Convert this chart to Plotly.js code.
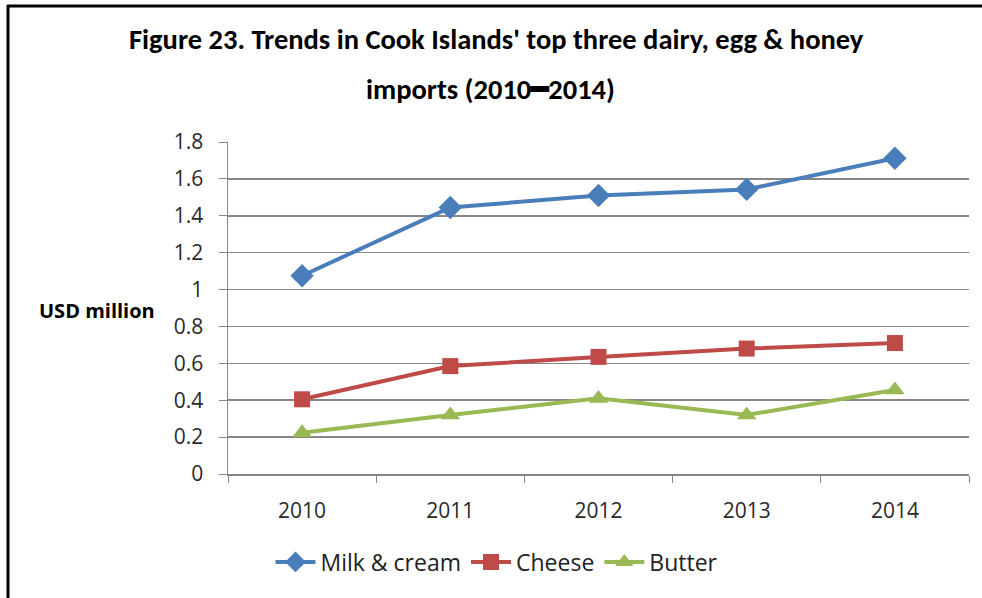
<!DOCTYPE html>
<html>
<head>
<meta charset="utf-8">
<script src="https://cdn.plot.ly/plotly-3.0.1.min.js"></script>
<style>html,body{margin:0;padding:0;background:#fff;}#chart{width:982px;height:598px;}</style>
</head>
<body>
<div id="chart"></div>
<script>
const years = ['2010', '2011', '2012', '2013', '2014'];
const milkCream = [1.075, 1.445, 1.51, 1.543, 1.712];
const cheese = [0.405, 0.585, 0.635, 0.68, 0.71];
const butter = [0.224, 0.32, 0.41, 0.32, 0.455];
const yTicks = [0, 0.2, 0.4, 0.6, 0.8, 1, 1.2, 1.4, 1.6, 1.8];
const yTickText = ['0', '0.2', '0.4', '0.6', '0.8', '1', '1.2', '1.4', '1.6', '1.8'];
const seriesNames = ['Milk & cream', 'Cheese', 'Butter'];
const titleLine1 = "Figure 23. Trends in Cook Islands' top three dairy, egg & honey";
const titleLine2 = "imports (2010\u25012014)";
const yLabel = 'USD million';

const W = 982, H = 598;
const M = {l: 228, r: 13, t: 142, b: 124};
const pw = W - M.l - M.r, ph = H - M.t - M.b;
const px = x => (x - M.l) / pw;
const py = y => (H - M.b - y) / ph;

const tickFont = {family: 'Open Sans, DejaVu Sans, sans-serif', size: 21, color: '#2a2a2a'};
const titleFont = {family: 'Carlito, Liberation Sans Narrow, Roboto, sans-serif', size: 28.5, color: '#000000'};

const traces = [
  {x: years, y: milkCream, name: seriesNames[0], type: 'scatter', mode: 'lines+markers',
   line: {color: '#4A7EBB', width: 4}, marker: {symbol: 'diamond', size: 18, color: '#4A7EBB'}},
  {x: years, y: cheese, name: seriesNames[1], type: 'scatter', mode: 'lines+markers',
   line: {color: '#BE4B48', width: 4}, marker: {symbol: 'square', size: 16, color: '#BE4B48'}},
  {x: years, y: butter, name: seriesNames[2], type: 'scatter', mode: 'lines+markers',
   line: {color: '#98B954', width: 4}, marker: {symbol: 'triangle-up', size: 17, color: '#98B954'}}
];

const layout = {
  width: W, height: H,
  margin: M,
  paper_bgcolor: '#ffffff', plot_bgcolor: '#ffffff',
  showlegend: true,
  legend: {orientation: 'h', xref: 'container', yref: 'container', x: 497 / W, y: 1 - 562 / H,
           xanchor: 'center', yanchor: 'middle', font: {family: 'Open Sans, DejaVu Sans, sans-serif', size: 23, color: '#222222'},
           itemwidth: 40, tracegroupgap: 0},
  xaxis: {type: 'category', range: [-0.5, 4.5], tickson: 'boundaries', ticks: 'outside', ticklen: 7,
          tickcolor: '#868686', showline: true, linecolor: '#868686', linewidth: 1.5, showgrid: false,
          tickfont: tickFont, fixedrange: true, ticklabelstandoff: 17},
  yaxis: {range: [0, 1.8], tickvals: yTicks, ticktext: yTickText, ticks: 'outside', ticklen: 8,
          tickcolor: '#868686', showline: true, linecolor: '#868686', linewidth: 1.5,
          showgrid: true, gridcolor: '#868686', gridwidth: 1.5, zeroline: false,
          tickfont: tickFont, fixedrange: true, ticklabelstandoff: 11},
  annotations: [
    {text: '<b>' + titleLine1 + '</b>', xref: 'paper', yref: 'paper', x: px(496), y: py(40),
     xanchor: 'center', yanchor: 'middle', showarrow: false, font: titleFont},
    {text: '<b>' + titleLine2 + '</b>', xref: 'paper', yref: 'paper', x: px(490), y: py(89),
     xanchor: 'center', yanchor: 'middle', showarrow: false, font: titleFont},
    {text: '<b>' + yLabel + '</b>', xref: 'paper', yref: 'paper', x: px(157), y: py(310),
     xanchor: 'right', yanchor: 'middle', showarrow: false,
     font: {family: 'Open Sans, DejaVu Sans, sans-serif', size: 20, color: '#000000'}}
  ],
  shapes: [
    {type: 'line', xref: 'paper', yref: 'paper', x0: px(8), x1: px(8), y0: py(5), y1: py(600),
     line: {color: '#000000', width: 3}},
    {type: 'line', xref: 'paper', yref: 'paper', x0: px(7), x1: px(985), y0: py(6), y1: py(6),
     line: {color: '#000000', width: 3}}
  ]
};

Plotly.newPlot('chart', traces, layout, {displayModeBar: false, staticPlot: true});
</script>
</body>
</html>
